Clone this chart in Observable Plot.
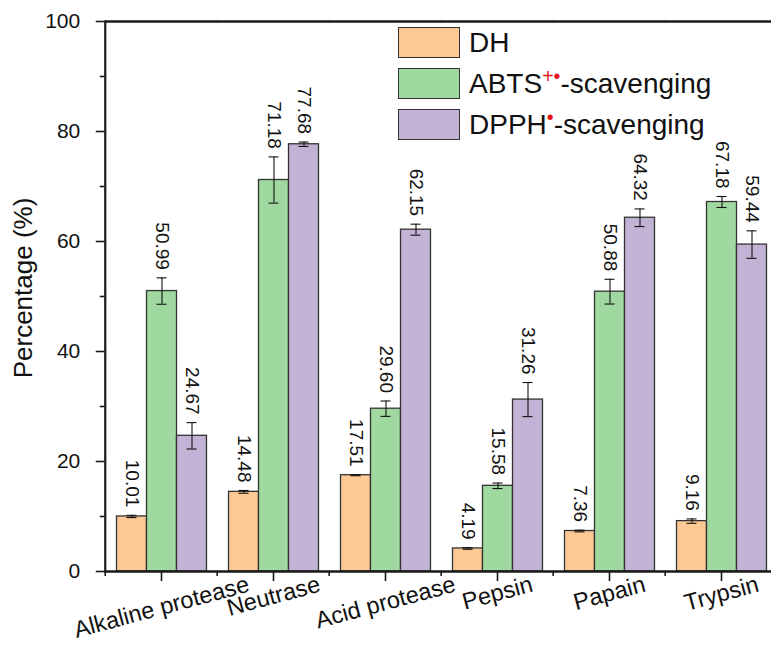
<!DOCTYPE html>
<html>
<head>
<meta charset="utf-8">
<script src="https://cdn.jsdelivr.net/npm/d3@7"></script>
<script src="https://cdn.jsdelivr.net/npm/@observablehq/plot@0.6"></script>
<style>
  html, body { margin: 0; padding: 0; background: white; }
  #wrap { position: relative; width: 771px; height: 646px; overflow: hidden; font-family: "Liberation Sans", Arial, sans-serif; }
  #ylabel { position: absolute; left: 23px; top: 288px; transform: translate(-50%, -50%) rotate(-90deg); font-size: 26px; white-space: nowrap; color: #111; }
  #legend { position: absolute; left: 398px; top: 27px; }
  .li { position: absolute; left: 0; height: 31px; display: flex; align-items: center; white-space: nowrap; }
  .sw { width: 60px; height: 29px; border: 1.3px solid #333; box-sizing: content-box; margin-right: 9px; }
  .lt { font-size: 28px; color: #111; line-height: 31px; }
  .lt sup { color: #e8141b; font-size: 0.7em; vertical-align: 0.5em; line-height: 0; }
</style>
</head>
<body>
<div id="wrap">
  <div id="chart"></div>
  <div id="ylabel">Percentage (%)</div>
  <div id="legend"></div>
</div>
<script>
// ---- data ----
const categories = ["Alkaline protease", "Neutrase", "Acid protease", "Pepsin", "Papain", "Trypsin"];
const seriesNames = ["DH", "ABTS", "DPPH"];
const dhValues = [10.01, 14.48, 17.51, 4.19, 7.36, 9.16];
const dhErrors = [0.2, 0.25, 0.1, 0.15, 0.15, 0.4];
const abtsValues = [50.99, 71.18, 29.60, 15.58, 50.88, 67.18];
const abtsErrors = [2.4, 4.2, 1.4, 0.5, 2.25, 1.0];
const dpphValues = [24.67, 77.68, 62.15, 31.26, 64.32, 59.44];
const dpphErrors = [2.4, 0.4, 1.0, 3.1, 1.6, 2.5];
const yTicks = [0, 20, 40, 60, 80, 100];
const yMinorTicks = [10, 30, 50, 70, 90];
const seriesColors = ["#FCC995", "#A0D9A0", "#C1B2D6"];

const valuesBySeries = {DH: dhValues, ABTS: abtsValues, DPPH: dpphValues};
const errorsBySeries = {DH: dhErrors, ABTS: abtsErrors, DPPH: dpphErrors};
const rows = categories.flatMap((cat, i) =>
  seriesNames.map(s => ({cat, series: s, value: valuesBySeries[s][i], err: errorsBySeries[s][i]}))
);

// ---- layout ----
const W = 779, H = 646, mL = 103.5, mR = 0, mT = 21, mB = 75;
const padInner = 0.2, padOuter = 0.1;
const step = (W - mL - mR) / (categories.length - padInner + 2 * padOuter);
const outerGap = step * padOuter;          // from frame edge to first band
const halfGap = step * padInner / 2;       // half of the gap between bands
const axisColor = "#1a1a1a";
const fontFamily = '"Liberation Sans", Arial, sans-serif';
const blank = () => "";

// x labels: rotated, horizontally centred on the tick, with the top of
// each rotated label's bounding box at a fixed distance below the axis
const xLabelSize = 23.5, xLabelAngle = -15, xLabelTop = 2;
const ctx = document.createElement("canvas").getContext("2d");
ctx.font = `${xLabelSize}px ${fontFamily}`;
const rad = Math.abs(xLabelAngle) * Math.PI / 180;
const glyphH = xLabelSize * 0.92;
const xLabelMarks = categories.map(c => {
  const w = ctx.measureText(c).width;
  const halfExtent = (w * Math.sin(rad) + glyphH * Math.cos(rad)) / 2;
  return Plot.text([c], {fx: d => d, text: d => d, frameAnchor: "bottom", dy: xLabelTop + halfExtent,
    rotate: xLabelAngle, textAnchor: "middle", lineAnchor: "middle", fontSize: xLabelSize, fill: "#111"});
});

const chart = Plot.plot({
  width: W, height: H,
  marginLeft: mL, marginRight: mR, marginTop: mT, marginBottom: mB,
  style: {fontFamily, maxWidth: "none", overflow: "hidden", background: "white", color: "#111"},
  fx: {domain: categories, paddingInner: padInner, paddingOuter: padOuter, axis: null, label: null},
  x: {domain: seriesNames, padding: 0, axis: null},
  y: {domain: [0, 100], axis: null},
  color: {domain: seriesNames, range: seriesColors},
  marks: [
    Plot.barY(rows, {fx: "cat", x: "series", y: "value", fill: "series", stroke: "#333", strokeWidth: 1.3}),
    Plot.ruleX(rows, {fx: "cat", x: "series", y1: d => d.value - d.err, y2: d => d.value + d.err, stroke: "#111", strokeWidth: 1.1}),
    Plot.tickY(rows, {fx: "cat", x: "series", y: d => d.value - d.err, stroke: "#111", strokeWidth: 1.1, insetLeft: 10, insetRight: 10}),
    Plot.tickY(rows, {fx: "cat", x: "series", y: d => d.value + d.err, stroke: "#111", strokeWidth: 1.1, insetLeft: 10, insetRight: 10}),
    Plot.text(rows, {fx: "cat", x: "series", y: d => d.value + d.err, text: d => d.value.toFixed(2), rotate: 90, textAnchor: "end", lineAnchor: "middle", dy: -8, fontSize: 19, fill: "#111"}),
    ...xLabelMarks,
    // x major and minor ticks
    Plot.axisFx({anchor: "bottom", tickSize: 10, tickFormat: blank, label: null, stroke: axisColor, strokeWidth: 1.6}),
    Plot.axisFx({anchor: "bottom", tickSize: 5, tickFormat: blank, label: null, stroke: axisColor, strokeWidth: 1.6, dx: -step / 2}),
    // frame lines: bottom and top, spanning each facet plus the gaps around it
    Plot.ruleY([0, 100], {stroke: axisColor, strokeWidth: 2.3, insetLeft: -halfGap, insetRight: -halfGap}),
    // left axis line, drawn in the leftmost facet and shifted to the frame edge
    Plot.frame({anchor: "left", facetAnchor: "left", dx: -outerGap, stroke: axisColor, strokeWidth: 2.2}),
    // y axis ticks and labels
    Plot.axisY(yTicks, {anchor: "left", facetAnchor: "left", dx: -outerGap, tickSize: 9, tickPadding: 16, fontSize: 21, label: null, stroke: axisColor, strokeWidth: 1.6, fill: "#111"}),
    Plot.axisY(yMinorTicks, {anchor: "left", facetAnchor: "left", dx: -outerGap, tickSize: 5, tickFormat: blank, label: null, stroke: axisColor, strokeWidth: 1.6})
  ]
});
document.getElementById("chart").appendChild(chart);

// ---- legend ----
const legendLabels = {
  DH: "DH",
  ABTS: 'ABTS<sup>+•</sup>-scavenging',
  DPPH: 'DPPH<sup>•</sup>-scavenging'
};
const legend = document.getElementById("legend");
seriesNames.forEach((s, i) => {
  const item = document.createElement("div");
  item.className = "li";
  item.style.top = (i * 41) + "px";
  item.innerHTML = `<div class="sw" style="background:${seriesColors[i]}"></div><span class="lt">${legendLabels[s]}</span>`;
  legend.appendChild(item);
});
</script>
</body>
</html>
